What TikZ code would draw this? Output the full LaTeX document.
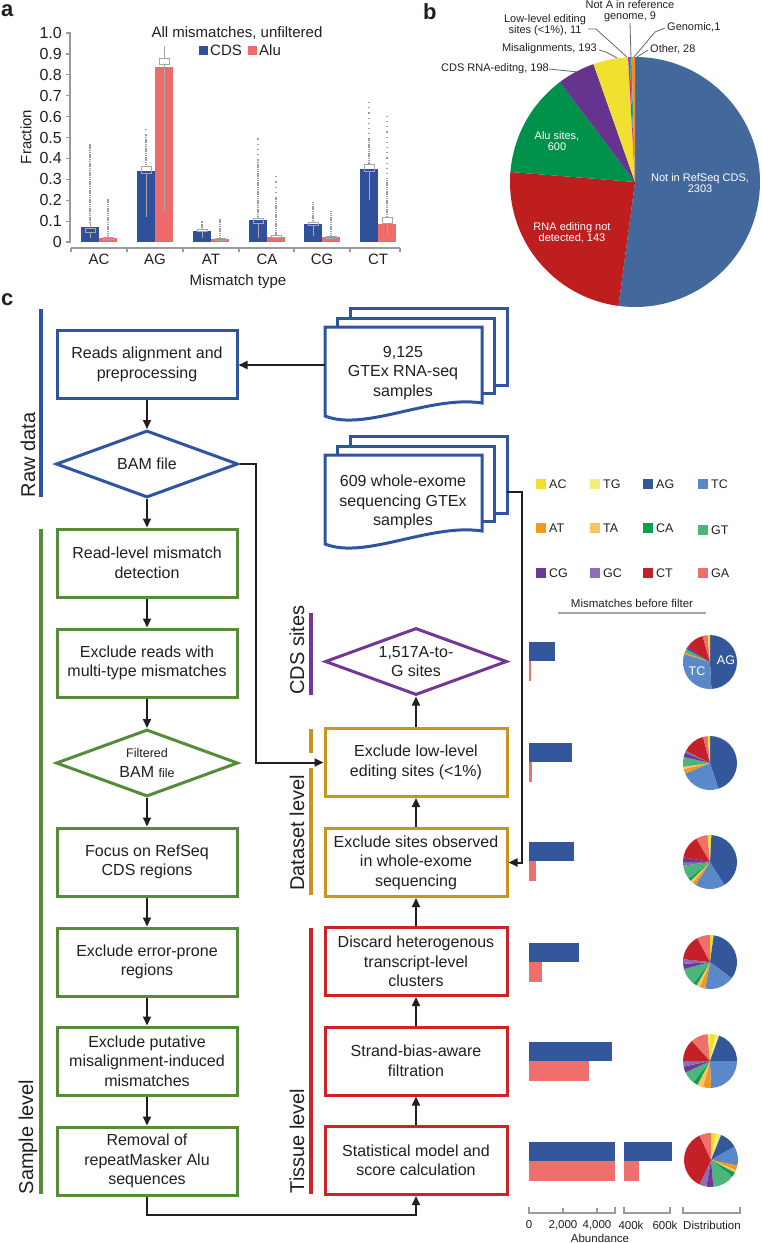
\documentclass[tikz,border=0pt]{standalone}
\usepackage{fontspec}
\setmainfont{Liberation Sans}
\usetikzlibrary{arrows.meta,shapes.geometric}
\definecolor{txt}{HTML}{231F20}
\definecolor{cblue}{HTML}{2E55A2}
\definecolor{cgreen}{HTML}{568C37}
\definecolor{cgold}{HTML}{C8961E}
\definecolor{cred}{HTML}{CD2328}
\definecolor{cpurple}{HTML}{753797}
\definecolor{barblue}{HTML}{30509C}
\definecolor{barred}{HTML}{EE6B6B}
\definecolor{axgray}{HTML}{9A9A9A}
\definecolor{cAC}{HTML}{F0E128}
\definecolor{cTG}{HTML}{F5EC7C}
\definecolor{cAG}{HTML}{34579C}
\definecolor{cTC}{HTML}{5A88C8}
\definecolor{cAT}{HTML}{F29A1F}
\definecolor{cTA}{HTML}{FBC467}
\definecolor{cCA}{HTML}{0AA04F}
\definecolor{cGT}{HTML}{4CB47D}
\definecolor{cCG}{HTML}{6B3997}
\definecolor{cGC}{HTML}{8E6DB8}
\definecolor{cCT}{HTML}{C32127}
\definecolor{cGA}{HTML}{EE6F6C}
\definecolor{pBlue}{HTML}{43689B}
\definecolor{pRed}{HTML}{BE1E1E}
\definecolor{pGreen}{HTML}{00914A}
\definecolor{pPurple}{HTML}{66348F}
\definecolor{pYellow}{HTML}{F0E130}
\definecolor{pMag}{HTML}{D0308C}
\definecolor{pTeal}{HTML}{1EA0B4}
\definecolor{pOrange}{HTML}{F0901E}
\newcommand\myfA{\fontsize{15}{17}\selectfont}
\newcommand\myfN{\fontsize{16}{18}\selectfont}
\newcommand\myfB{\fontsize{11}{11}\selectfont}
\newcommand\myfC{\fontsize{16}{19.5}\selectfont}
\newcommand\myfL{\fontsize{20}{22}\selectfont}
\newcommand\myfS{\fontsize{12.5}{14}\selectfont}
\newcommand\myfT{\fontsize{11.5}{13}\selectfont}
\newcommand\myfP{\fontsize{22}{24}\selectfont\bfseries}
\newcommand\minipie[3]{%
  \foreach \pa/\pb/\pc in {#3}{%
    \fill[\pc] (#1,#2) -- ++({\pa-90}:27) arc[start angle={\pa-90}, end angle={\pb-90}, radius=27] -- cycle;}%
}
\newcommand\bigslice[3]{%
  \fill[#3] (pie) -- ++({#1-90}:125) arc[start angle={#1-90}, end angle={#2-90}, radius=125] -- cycle;}
\newcommand\bxp[7]{%
  \draw[wgray] (#1,{242-209*#2}) -- (#1,{242-209*#3});
  \draw[wgray] ({#1-5},{242-209*#3}) rectangle ({#1+5},{242-209*#4});
  \draw[wgray] (#1,{242-209*#4}) -- (#1,{242-209*#5});
  \draw[dense] (#1,{242-209*#5}) -- (#1,{242-209*#6});
  \draw[sparse] (#1,{242-209*#6}) -- (#1,{242-209*#7});
}
\tikzset{
  flowbox/.style={draw, line width=3pt, fill=white, minimum width=180pt, minimum height=68pt,
    inner sep=0pt, align=center, font=\myfC, text=txt},
  dia/.style={diamond, draw, line width=3pt, fill=white, minimum width=182pt, minimum height=67pt, inner sep=0pt},
  conn/.style={draw=txt, line width=2pt},
  arr/.style={conn, -{Triangle[length=9pt,width=8pt]}},
  lvl/.style={line width=4pt},
  lvltext/.style={rotate=90, font=\myfL, text=txt, inner sep=0pt},
  docst/.style={draw=cblue, line width=3pt, fill=white, line join=miter},
  axg/.style={draw=axgray, line width=1.2pt},
  wgray/.style={draw=gray!70, line width=0.8pt},
  dense/.style={draw=gray!75, line width=1.6pt, dash pattern=on 1.2pt off 0.6pt},
  sparse/.style={draw=gray!75, line width=1.6pt, dash pattern=on 1.2pt off 4pt},
  lead/.style={draw=gray!80!black, line width=0.8pt},
  lbl/.style={font=\myfB, text=txt, inner sep=0pt, align=center},
  wlbl/.style={font=\myfB, text=white, inner sep=0pt, align=center},
}
\begin{document}
\begin{tikzpicture}[x=1pt,y=-1pt]
\useasboundingbox[fill=white] (0,0) rectangle (761,1243);

% ---------- panel labels ----------
\node[font=\myfP, text=txt, anchor=north west, inner sep=0pt] (la) at (1,4) {a};
\node[font=\myfP, text=txt, anchor=north west, inner sep=0pt] (lb) at (423,3) {b};
\node[font=\myfP, text=txt, anchor=north west, inner sep=0pt] (lc) at (1,293) {c};

% ---------- panel a ----------
\draw[axg] (70,32) -- (70,243);
\foreach \v/\l in {0/0,0.1/0.1,0.2/0.2,0.3/0.3,0.4/0.4,0.5/0.5,0.6/0.6,0.7/0.7,0.8/0.8,0.9/0.9,1/1.0}{
  \draw[axg] (66,{242-209*\v}) -- (70,{242-209*\v});
  \node[anchor=east, font=\myfN, text=txt, inner sep=0pt] at (62,{242-209*\v}) {\l};
}
\draw[axg] (71,248) -- (400,248);
\foreach \x in {71,127,183,239,294,350,400}{\draw[axg] (\x,248) -- (\x,252);}
\foreach \c/\hb/\hr/\n in {99/0.073/0.018/AC, 155/0.34/0.835/AG, 211/0.055/0.015/AT, 267/0.105/0.025/CA, 322/0.087/0.022/CG, 378/0.35/0.088/CT}{
  \fill[barblue] ({\c-18},242) rectangle (\c,{242-209*\hb});
  \fill[barred] (\c,242) rectangle ({\c+18},{242-209*\hr});
  \node[font=\myfA, text=txt, inner sep=0pt] at (\c,259) {\n};
}
\bxp{90}{0.02}{0.045}{0.065}{0.09}{0.47}{0.47}
\bxp{108}{0.005}{0.012}{0.022}{0.03}{0.21}{0.21}
\bxp{146}{0.12}{0.33}{0.36}{0.36}{0.51}{0.55}
\bxp{164}{0.15}{0.85}{0.88}{0.94}{0.94}{0.94}
\bxp{202}{0.02}{0.05}{0.06}{0.065}{0.1}{0.1}
\bxp{220}{0.005}{0.01}{0.018}{0.02}{0.11}{0.11}
\bxp{258}{0.02}{0.09}{0.115}{0.12}{0.39}{0.5}
\bxp{276}{0.01}{0.02}{0.03}{0.035}{0.21}{0.33}
\bxp{313}{0.03}{0.08}{0.095}{0.1}{0.19}{0.19}
\bxp{331}{0.01}{0.015}{0.025}{0.03}{0.15}{0.15}
\bxp{369}{0.2}{0.34}{0.37}{0.37}{0.49}{0.68}
\bxp{387}{0.04}{0.09}{0.12}{0.12}{0.3}{0.62}
\node[lvltext, font=\myfA] (fr) at (26,137) {Fraction};
\node[font=\myfA, text=txt, inner sep=0pt] (mt) at (238,282) {Mismatch type};
\node[font=\myfA, text=txt, inner sep=0pt] (ttl) at (237,33) {All mismatches, unfiltered};
\fill[barblue] (199,46) rectangle (208,55);
\node[font=\myfA, text=txt, anchor=west, inner sep=0pt] (lgc) at (210,50.5) {CDS};
\fill[barred] (248,46) rectangle (257,55);
\node[font=\myfA, text=txt, anchor=west, inner sep=0pt] (lga) at (259,50.5) {Alu};

% ---------- panel b ----------
\coordinate (pie) at (635,182);
\bigslice{0}{187.6}{pBlue}
\bigslice{187.6}{274.6}{pRed}
\bigslice{274.6}{323.1}{pGreen}
\bigslice{323.1}{340.6}{pPurple}
\bigslice{340.6}{356.8}{pYellow}
\bigslice{356.8}{357.6}{pMag}
\bigslice{357.6}{358.4}{pTeal}
\bigslice{358.4}{360}{pOrange}
\node[wlbl] (pb1) at (700,183) {Not in RefSeq CDS,\\2303};
\node[wlbl] (pb2) at (572,233) {RNA editing not\\detected, 143};
\node[wlbl] (pb3) at (557,141) {Alu sites,\\600};
\node[lbl, anchor=east] (ob1) at (549,69) {CDS RNA-editng, 198};
\draw[lead] (ob1.east) -- (578,72);
\node[lbl, anchor=east] (ob2) at (597,49) {Misalignments, 193};
\draw[lead] (ob2.east) ++(2,1) -- (606,52) -- (617,58);
\node[lbl] (ob3) at (545,25) {Low-level editing\\sites (<1\%), 11};
\draw[lead] (ob3.east) ++(2,4) -- (596,29) -- (627,57);
\node[lbl] (ob4) at (630,11) {Not A in reference\\genome, 9};
\draw[lead] (ob4.south) ++(0,1) -- (631,58);
\node[lbl, anchor=west] (ob5) at (667,27) {Genomic,1};
\draw[lead] (ob5.west) ++(-2,1) -- (655,32) -- (634,57);
\node[lbl, anchor=west] (ob6) at (650,49) {Other, 28};
\draw[lead] (ob6.west) ++(-2,1) -- (637,57);

% ---------- panel c : level bars ----------
\draw[lvl, cblue] (41,309) -- (41,497);
\node[lvltext] (rawd) at (28,455) {Raw data};
\draw[lvl, cgreen] (41,529) -- (41,1194);
\node[lvltext] (samp) at (28,1137) {Sample level};
\draw[lvl, cpurple] (311,613) -- (311,695);
\node[lvltext] (cdss) at (297,650) {CDS sites};
\draw[lvl, cgold] (311,729) -- (311,753);
\draw[lvl, cgold] (311,768) -- (311,895);
\node[lvltext] (dset) at (297,833) {Dataset level};
\draw[lvl, cred] (311,928) -- (311,1194);
\node[lvltext] (tiss) at (297,1141) {Tissue level};

% ---------- documents ----------
\foreach \dy in {0,128}{
  \begin{scope}[shift={(0,\dy)}]
    \draw[docst] (350,308) rectangle (507,385);
    \draw[docst] (337,318) rectangle (494,393);
    \draw[docst] (325,327) -- (482,327) -- (482,403) .. controls (430,395) and (365,432) .. (325,416) -- cycle;
  \end{scope}
}
\node[font=\myfC, text=txt, align=center, inner sep=0pt] (docA) at (403,373) {9,125\\GTEx RNA-seq\\samples};
\node[font=\myfC, text=txt, align=center, inner sep=0pt] (docB) at (403,502) {609 whole-exome\\sequencing GTEx\\samples};
\coordinate (dAw) at (325,365);
\coordinate (dBe) at (507,492);

% ---------- flow nodes ----------
\node[flowbox, draw=cblue] (reads) at (147,364.5) {Reads alignment and\\preprocessing};
\node[dia, draw=cblue] (bam) at (147,464) {};
\node[font=\myfC, text=txt] (bamt) at (bam) {BAM file};
\node[flowbox, draw=cgreen] (g1) at (147,563) {Read-level mismatch\\detection};
\node[flowbox, draw=cgreen] (g2) at (147,663) {Exclude reads with\\multi-type mismatches};
\node[dia, draw=cgreen] (fbam) at (147,763) {};
\node[font=\myfC, text=txt, align=center, inner sep=0pt] (fbamt) at (fbam) {{\myfS Filtered}\\BAM {\myfS file}};
\node[flowbox, draw=cgreen] (g3) at (147,862) {Focus on RefSeq\\CDS regions};
\node[flowbox, draw=cgreen] (g4) at (147,962) {Exclude error-prone\\regions};
\node[flowbox, draw=cgreen] (g5) at (147,1061) {Exclude putative\\misalignment-induced\\mismatches};
\node[flowbox, draw=cgreen] (g6) at (147,1161) {Removal of\\repeatMasker Alu\\sequences};

\node[dia, draw=cpurple] (cds) at (416,661.5) {};
\node[font=\myfC, text=txt, align=center, inner sep=0pt] (cdst) at (cds) {1,517A-to-\\G sites};
\node[flowbox, draw=cgold, minimum width=182pt] (gold1) at (416,762.5) {Exclude low-level\\editing sites (<1\%)};
\node[flowbox, draw=cgold, minimum width=182pt] (gold2) at (416,862.5) {Exclude sites observed\\in whole-exome\\sequencing};
\node[flowbox, draw=cred, minimum width=182pt] (red1) at (416,961.5) {Discard heterogenous\\transcript-level\\clusters};
\node[flowbox, draw=cred, minimum width=182pt] (red2) at (416,1061) {Strand-bias-aware\\filtration};
\node[flowbox, draw=cred, minimum width=182pt] (red3) at (416,1160.5) {Statistical model and\\score calculation};

% ---------- connectors ----------
\draw[arr] (dAw) -- (reads.east |- dAw);
\draw[arr] (reads.south) -- (bam.north);
\draw[arr] (bam.south) -- (g1.north);
\draw[arr] (g1.south) -- (g2.north);
\draw[arr] (g2.south) -- (fbam.north);
\draw[arr] (fbam.south) -- (g3.north);
\draw[arr] (g3.south) -- (g4.north);
\draw[arr] (g4.south) -- (g5.north);
\draw[arr] (g5.south) -- (g6.north);
\draw[arr] (bam.east) -- ++(16,0) |- (gold1.west);
\draw[arr] (g6.south) -- ++(0,18) -| (red3.south);
\draw[arr] (red3.north) -- (red2.south);
\draw[arr] (red2.north) -- (red1.south);
\draw[arr] (red1.north) -- (gold2.south);
\draw[arr] (gold2.north) -- (gold1.south);
\draw[arr] (gold1.north) -- (cds.south);
\draw[arr] (dBe) -- ++(15,0) |- (gold2.east);

% ---------- right legend ----------
\foreach \n/\col/\x/\y in {AC/cAC/536/484, TG/cTG/590/484, AG/cAG/643/484, TC/cTC/698/484,
  AT/cAT/536/528, TA/cTA/590/528, CA/cCA/643/528, GT/cGT/698/530,
  CG/cCG/536/573, GC/cGC/590/573, CT/cCT/643/573, GA/cGA/698/573}{
  \fill[\col] (\x,{\y-5}) rectangle ({\x+10},{\y+5});
  \node[anchor=west, font=\myfS, text=txt, inner sep=0pt] at ({\x+13},\y) {\n};
}
\node[font=\myfT, text=txt, inner sep=0pt] (mbf) at (632,603) {Mismatches before filter};
\draw[draw=gray!70, line width=2pt] (558,613) -- (706,613);

% ---------- right bars ----------
\foreach \y/\lb/\lr in {661/555/531, 762/572/532, 861/574/536, 962/579/542, 1061/612/589, 1161/615/615}{
  \fill[cAG] (529,{\y-19}) rectangle (\lb,\y);
  \fill[cGA] (529,\y) rectangle (\lr,{\y+20});
}
\fill[cAG] (624,1142) rectangle (672,1161);
\fill[cGA] (624,1161) rectangle (639,1181);
\draw[axg] (529,1207) -- (529,1213) -- (615,1213) -- (615,1207);
\draw[axg] (563,1213) -- (563,1208);
\draw[axg] (597,1213) -- (597,1208);
\draw[axg] (624,1207) -- (624,1213) -- (670,1213) -- (670,1207);
\draw[axg] (683,1207) -- (683,1213) -- (740,1213) -- (740,1207);
\foreach \x/\l in {529/0, 563/{2,000}, 597/{4,000}, 631/400k, 665/600k, 712/Distribution}{
  \node[font=\myfT, text=txt, inner sep=0pt] at (\x,1225) {\l};
}
\node[font=\myfT, text=txt, inner sep=0pt] (abund) at (600,1238) {Abundance};

% ---------- right pies ----------
\minipie{710}{662}{0/177/cAG, 177/287/cTC, 287/291/cAT, 291/299/cGT, 299/304/cCG, 304/344/cCT, 344/355/cGA, 355/360/cAC}
\node[font=\myfS, text=white, inner sep=0pt] (pAG) at (726,660) {AG};
\node[font=\myfS, text=white, inner sep=0pt] (pTC) at (697,671) {TC};
\minipie{710}{763}{0/162/cAG, 162/247/cTC, 247/257/cAT, 257/262/cTA, 262/283/cGT, 283/293/cCG, 293/297/cGC, 297/345/cCT, 345/355/cGA, 355/360/cAC}
\minipie{710}{862}{0/3/cAC, 3/148/cAG, 148/212/cTC, 212/220/cAT, 220/226/cTA, 226/232/cCA, 232/262/cGT, 262/270/cGC, 270/280/cCG, 280/330/cCT, 330/355/cGA, 355/360/cAC}
\minipie{710}{962}{0/8/cAC, 8/127/cAG, 127/190/cTC, 190/202/cAT, 202/210/cTA, 210/218/cCA, 218/255/cGT, 255/266/cCG, 266/276/cGC, 276/332/cCT, 332/360/cGA}
\minipie{710}{1061}{0/12/cAC, 12/20/cTG, 20/90/cAG, 90/178/cTC, 178/195/cAT, 195/208/cTA, 208/218/cCA, 218/245/cGT, 245/258/cCG, 258/270/cGC, 270/318/cCT, 318/355/cGA, 355/360/cTG}
\minipie{711}{1160}{0/12/cAC, 12/22/cTG, 22/60/cAG, 60/102/cTC, 102/112/cAT, 112/118/cTA, 118/128/cCA, 128/175/cGT, 175/190/cCG, 190/205/cGC, 205/335/cCT, 335/360/cGA}
\end{tikzpicture}
\end{document}
